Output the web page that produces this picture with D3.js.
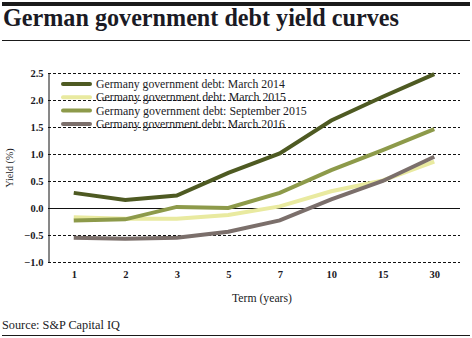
<!DOCTYPE html>
<html><head><meta charset="utf-8">
<script src="https://cdn.jsdelivr.net/npm/d3@7"></script>
<style>body{margin:0;background:#fff}svg{display:block}</style>
</head><body><svg id="c" width="472" height="338"></svg>
<script>
const terms = ["1","2","3","5","7","10","15","30"];
const seriesNames = ["Germany government debt: March 2014","Germany government debt: March 2015","Germany government debt: September 2015","Germany government debt: March 2016"];
const mar2014 = [0.28,0.15,0.23,0.65,1.01,1.62,2.06,2.48];
const mar2015 = [-0.17,-0.20,-0.20,-0.13,0.03,0.31,0.51,0.86];
const sep2015 = [-0.23,-0.21,0.02,0.00,0.28,0.70,1.07,1.46];
const mar2016 = [-0.55,-0.57,-0.55,-0.44,-0.23,0.16,0.50,0.95];
const yTicks = [-1.0,-0.5,0.0,0.5,1.0,1.5,2.0,2.5];
const colors = ["#4e5a22","#e9eaa0","#8d9a4a","#7b6f6b"];
const allSeries = [mar2014,mar2015,sep2015,mar2016];

const svg = d3.select("#c");
const serif = "'Liberation Serif','DejaVu Serif',serif";
const L=48,R=460,T=73,B=262;
const x = d3.scalePoint().domain(terms).range([L,R]).padding(0.5);
const y = d3.scaleLinear().domain([-1,2.5]).range([B,T]);

function fit(sel, w){ // set font-size so text width ~ w
  const n = sel.node(); const fs = +sel.attr("font-size");
  const cw = n.getComputedTextLength();
  if (cw>0) sel.attr("font-size", (fs*w/cw).toFixed(2));
  return sel;
}

svg.append("rect").attr("x",2).attr("y",2).attr("width",468).attr("height",4).attr("fill","#1a1a1a");
fit(svg.append("text").attr("x",3).attr("y",26).attr("font-family",serif).attr("font-weight","bold").attr("font-size",22).attr("fill","#1a1a24").text("German government debt yield curves"),396);
svg.append("line").attr("x1",2).attr("x2",470).attr("y1",40.5).attr("y2",40.5).attr("stroke","#1a1a1a").attr("stroke-width",1);

// grid
yTicks.forEach(v=>{
  svg.append("line").attr("x1",L).attr("x2",R).attr("y1",Math.round(y(v))+0.5).attr("y2",Math.round(y(v))+0.5)
    .attr("stroke","#111").attr("stroke-width",1).attr("stroke-dasharray",v===0?null:"3,2");
});
const yAxis = d3.axisLeft(y).tickValues(yTicks).tickFormat(d3.format(".1f")).tickSize(0).tickPadding(6);
const ga = svg.append("g").attr("transform",`translate(${L+0.5},0.5)`).call(yAxis);
ga.select(".domain").attr("stroke","#111");
ga.selectAll("text").attr("font-family",serif).attr("font-size",10.5).attr("fill","#1a1a24").attr("font-weight","bold").attr("dx",1);

const xAxis = d3.axisBottom(x).tickSize(0).tickPadding(0);
const gx = svg.append("g").attr("transform",`translate(0,${B+9})`).call(xAxis);
gx.select(".domain").remove();
gx.selectAll("text").attr("font-family",serif).attr("font-size",10.5).attr("fill","#1a1a24").attr("font-weight","bold");

fit(svg.append("text").attr("x",262).attr("y",302).attr("text-anchor","middle").attr("font-family",serif).attr("font-size",11).attr("fill","#1a1a24").text("Term (years)"),60);
svg.append("text").attr("transform","translate(13,168) rotate(-90)").attr("text-anchor","middle").attr("font-family",serif).attr("font-size",10).attr("fill","#1a1a24").text("Yield (%)");

const line = d3.line().x((d,i)=>x(terms[i])).y(d=>y(d));
allSeries.forEach((s,i)=>{
  svg.append("path").datum(s).attr("d",line).attr("fill","none").attr("stroke",colors[i]).attr("stroke-width",4);
});

// legend
const legW = [189,190,211,189];
seriesNames.forEach((n,i)=>{
  const ly = 84 + i*13.3;
  svg.append("line").attr("x1",63).attr("x2",90).attr("y1",ly).attr("y2",ly).attr("stroke",colors[i]).attr("stroke-width",4).attr("stroke-linecap","round");
  fit(svg.append("text").attr("x",96).attr("y",ly+4).attr("font-family",serif).attr("font-size",11).attr("fill","#1a1a24").text(n), legW[i]);
});

fit(svg.append("text").attr("x",2).attr("y",329).attr("font-family",serif).attr("font-size",11).attr("fill","#1a1a24").text("Source: S&P Capital IQ"),118);
svg.append("line").attr("x1",2).attr("x2",470).attr("y1",335.5).attr("y2",335.5).attr("stroke","#1a1a1a").attr("stroke-width",1);
</script></body></html>
